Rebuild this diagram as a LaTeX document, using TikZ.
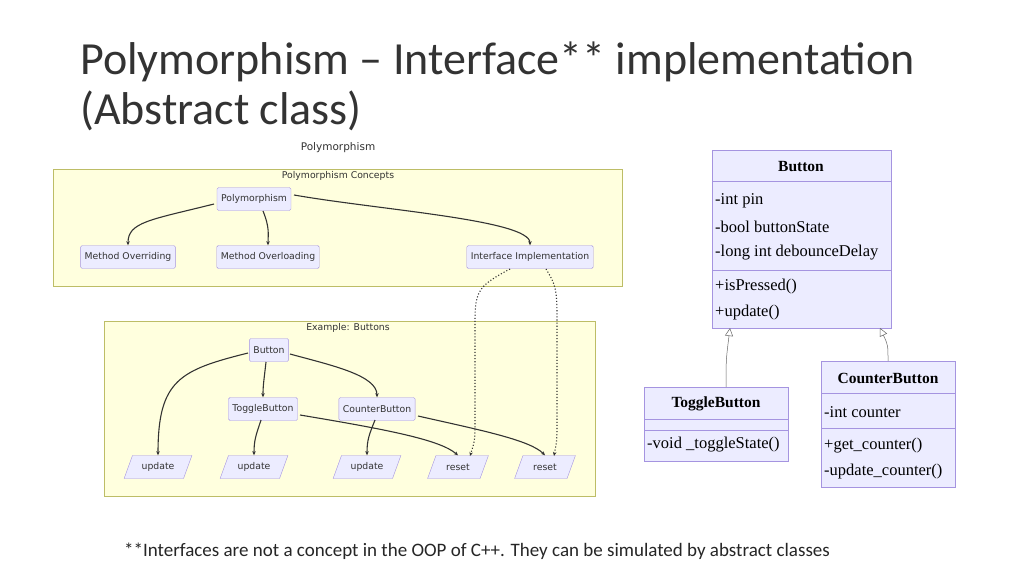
\documentclass[tikz,border=0pt]{standalone}
\usepackage{fontspec}
\setmainfont{Carlito}
\newfontfamily\mer{DejaVu Sans}
\newfontfamily\umlf{Liberation Serif}
\usetikzlibrary{arrows.meta,shapes.geometric}
\definecolor{nfill}{HTML}{ECECFF}
\definecolor{nline}{HTML}{A594E0}
\definecolor{cfill}{HTML}{FFFFDE}
\definecolor{cline}{HTML}{BDBD66}
\definecolor{edge}{HTML}{333333}
\tikzset{
 mnode/.style={draw=nline,fill=nfill,rounded corners=1.5pt,font=\mer\fontsize{9.3}{11}\selectfont,text=black!80,minimum height=23pt,inner xsep=4pt},
 para/.style={draw=nline,fill=nfill,trapezium,trapezium left angle=70,trapezium right angle=110,font=\mer\fontsize{9.3}{11}\selectfont,minimum height=23pt,minimum width=36pt,inner xsep=1pt,text=black!80},
 clus/.style={draw=cline,fill=cfill},
 ed/.style={draw=edge,line width=1.1pt,-{Stealth[length=4pt,width=3.5pt]}},
 dd/.style={draw=edge,line width=1.1pt,dotted,-{Stealth[length=4pt,width=3.5pt]}},
 ubox/.style={draw=nline,fill=nfill},
 ut/.style={font=\umlf\fontsize{16.5}{18}\selectfont,anchor=west,inner xsep=1pt},
 ub/.style={font=\umlf\bfseries\fontsize{15.5}{18}\selectfont},
 inh/.style={draw=black!60,line width=0.5pt,-{Triangle[open,length=8pt,width=8pt]}}
}
\begin{document}
\begin{tikzpicture}[x=1pt,y=-1pt]
\useasboundingbox (0,0) rectangle (1024,576);
\fill[white] (0,0) rectangle (1024,576);
\node[anchor=base west,font=\fontsize{46}{50}\selectfont,text=black!80,inner xsep=0pt] (title) at (80,74) {Polymorphism -- Interface** implementation};
\node[anchor=base west,font=\fontsize{46}{50}\selectfont,text=black!80,inner xsep=0pt] (title2) at (80,124) {(Abstract class)};
\node[font=\mer\fontsize{10.5}{12}\selectfont,text=black!80] (ptitle) at (338,148) {Polymorphism};
% clusters
\draw[clus] (53,169) rectangle (622,286);
\node[font=\mer\fontsize{9.3}{11}\selectfont,text=black!80] (c1) at (338,176) {Polymorphism Concepts};
\draw[clus] (104,321) rectangle (595,496);
\node[font=\mer\fontsize{9.3}{11}\selectfont,text=black!80] (c2) at (348,328) {Example: Buttons};
% nodes
\node[mnode] (poly) at (254,199) {Polymorphism};
\node[mnode] (mor) at (128,257) {Method Overriding};
\node[mnode] (mol) at (268,257) {Method Overloading};
\node[mnode] (ii) at (530,257) {Interface Implementation};
\node[mnode] (btn) at (269,350) {Button};
\node[mnode] (tb) at (263,409) {ToggleButton};
\node[mnode] (cb) at (377,409) {CounterButton};
\node[para] (u1) at (158,467) {update};
\node[para] (u2) at (254,467) {update};
\node[para] (u3) at (367,467) {update};
\node[para] (r1) at (458,467) {reset};
\node[para] (r2) at (545,467) {reset};
% edges
\draw[ed] (214,204) .. controls (150,220) and (128,222) .. (mor.north);
\draw[ed] (263,211) .. controls (270,228) and (268,235) .. (mol.north);
\draw[ed] (294,195) .. controls (380,210) and (530,220) .. (ii.north);
\draw[ed] (248,353) .. controls (180,370) and (158,380) .. (u1.north);
\draw[ed] (266,362) .. controls (264,380) and (263,385) .. (tb.north);
\draw[ed] (290,354) .. controls (330,365) and (377,375) .. (cb.north);
\draw[ed] (261,420) .. controls (256,435) and (254,440) .. (u2.north);
\draw[ed] (300,415) .. controls (390,430) and (440,440) .. (r1.north);
\draw[ed] (375,420) .. controls (369,435) and (367,440) .. (u3.north);
\draw[ed] (418,416) .. controls (480,430) and (530,440) .. (r2.north);
\coordinate (d1) at (470,456);
\coordinate (d2) at (554,456);
\draw[dd] (510,269) .. controls (480,285) and (475,290) .. (475,320) -- (475,420) .. controls (475,440) .. (d1);
\draw[dd] (546,269) .. controls (556,285) and (557,290) .. (557,320) -- (557,420) .. controls (557,440) .. (d2);
% UML
\draw[ubox] (712,150) rectangle (891,328);
\draw[nline] (712,181) -- (891,181) (712,270) -- (891,270);
\node[ub] (bt) at (801,167) {Button};
\node[ut] (a1) at (714,201) {-int pin};
\node[ut] (a2) at (714,227) {-bool buttonState};
\node[ut] (a3) at (714,253) {-long int debounceDelay};
\node[ut] (m1) at (714,287) {+isPressed()};
\node[ut] (m2) at (714,313) {+update()};
\draw[ubox] (644,387) rectangle (788,461);
\draw[nline] (644,419) -- (788,419) (644,430) -- (788,430);
\node[ub] (tt) at (716,404) {ToggleButton};
\node[ut] (t1) at (646,445) {-void \_toggleState()};
\draw[ubox] (821,361) rectangle (955,487);
\draw[nline] (821,393) -- (955,393) (821,428) -- (955,428);
\node[ub] (ct) at (888,378) {CounterButton};
\node[ut] (k1) at (823,412) {-int counter};
\node[ut] (k2) at (823,446) {+get\_counter()};
\node[ut] (k3) at (823,472) {-update\_counter()};
\coordinate (tbt) at (726,387);
\coordinate (bb1) at (730,328);
\coordinate (cbt) at (888,361);
\coordinate (bb2) at (880,328);
\draw[inh] (tbt) .. controls (726,360) .. (bb1);
\draw[inh] (cbt) .. controls (888,345) .. (bb2);
\node[font=\fontsize{19}{22}\selectfont,text=black!85] (foot) at (477,551) {**Interfaces are not a concept in the OOP of C++. They can be simulated by abstract classes};
\end{tikzpicture}
\end{document}
